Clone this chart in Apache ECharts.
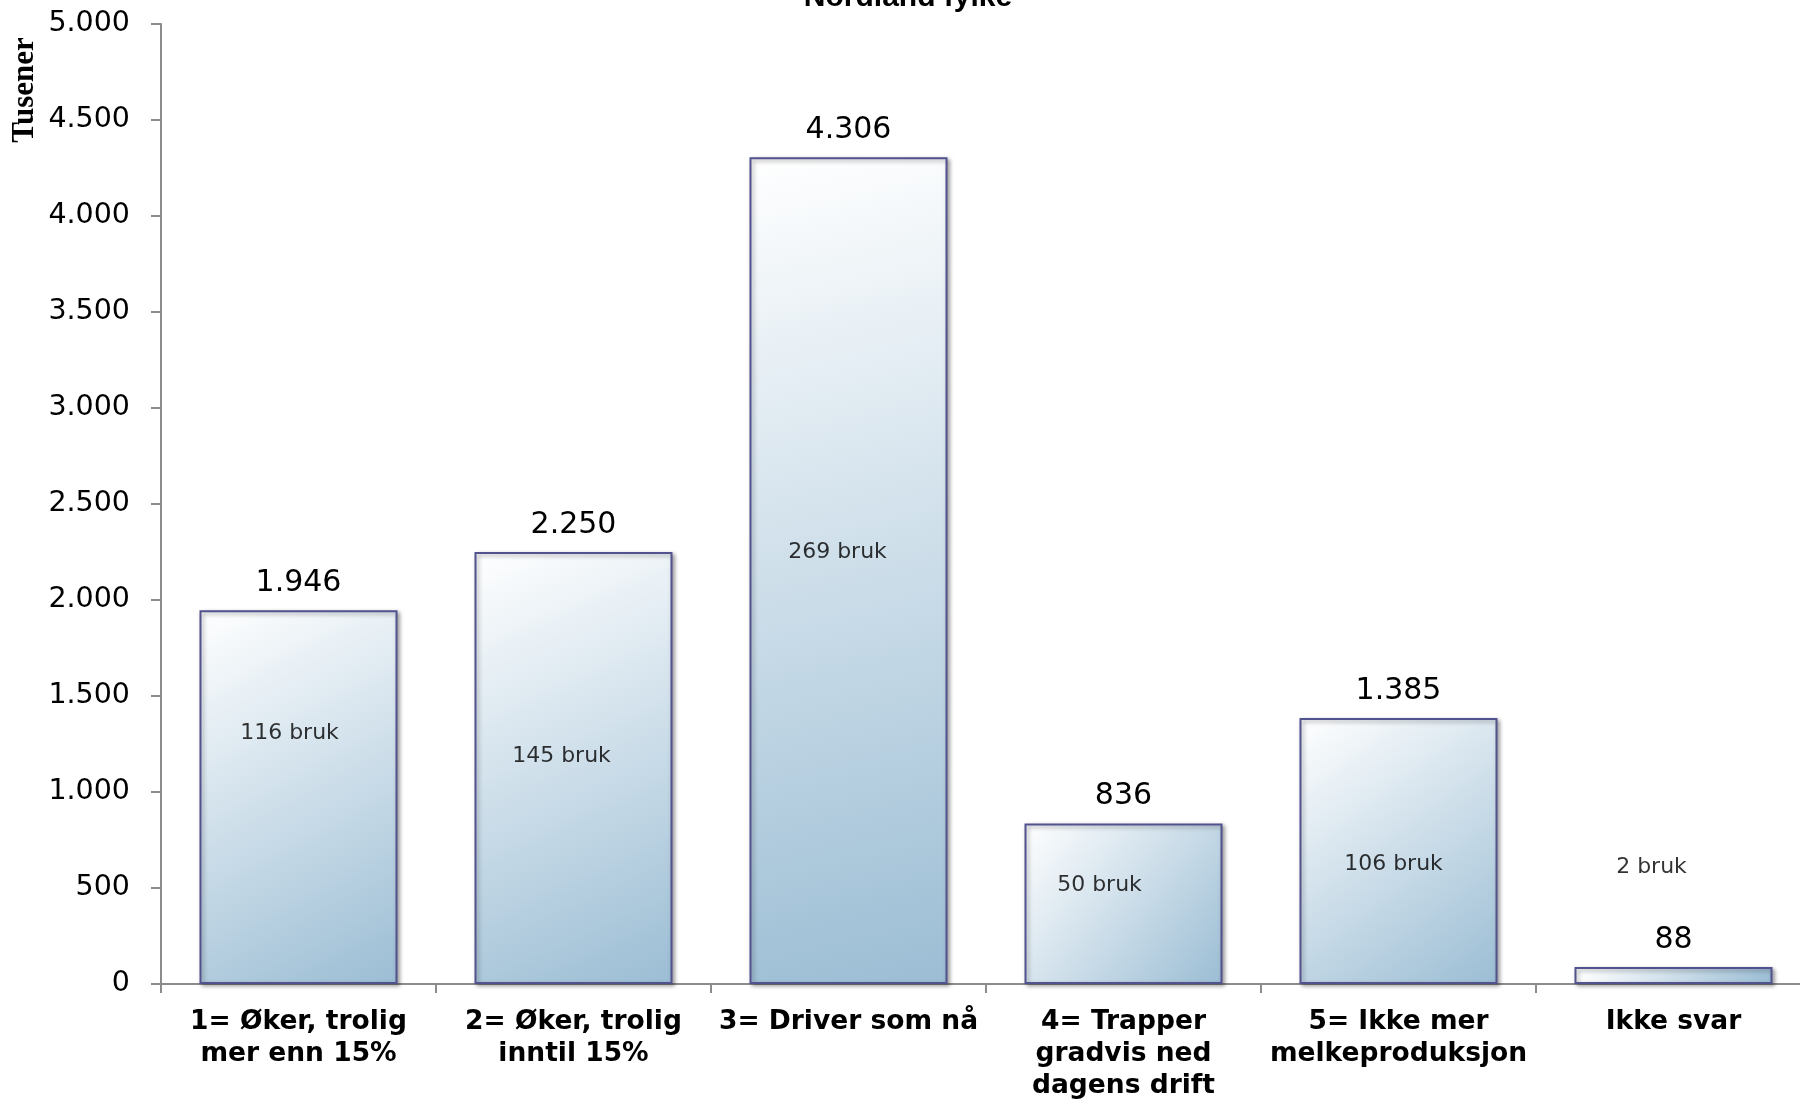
<!DOCTYPE html>
<html>
<head>
<meta charset="utf-8">
<script src="https://cdn.jsdelivr.net/npm/echarts@6/dist/echarts.min.js"></script>
<style>html,body{margin:0;padding:0;background:#fff;overflow:hidden}#c{width:1812px;height:1102px}</style>
</head>
<body>
<div id="c"></div>
<script>
const categories = ['1= Øker, trolig\nmer enn 15%', '2= Øker, trolig\ninntil 15%', '3= Driver som nå', '4= Trapper\ngradvis ned\ndagens drift', '5= Ikke mer\nmelkeproduksjon', 'Ikke svar'];
const values = [1946, 2250, 4306, 836, 1385, 88];
const brukCounts = [116, 145, 269, 50, 106, 2];
const yTicks = [0, 500, 1000, 1500, 2000, 2500, 3000, 3500, 4000, 4500, 5000];

// label anchor heights (in axis units) and horizontal nudges for the "bruk" annotations
const brukAnchor = [1305, 1185, 2247, 514, 624, 608];
const brukNudge = [-9, -12, -11, -24, -5, -22];

function fmt(v) { return String(v).replace(/\B(?=(\d{3})+(?!\d))/g, '.'); }

const chart = echarts.init(document.getElementById('c'), null, {renderer: 'canvas'});
const barColor = new echarts.graphic.LinearGradient(0, 0, 1, 1, [
  {offset: 0, color: '#ffffff'},
  {offset: 1, color: '#9bbdd4'}
]);
chart.setOption({
  animation: false,
  backgroundColor: '#ffffff',
  grid: {left: 161, top: 24, width: 1650, bottom: 117, containLabel: false},
  xAxis: {
    type: 'category',
    data: categories,
    axisLine: {lineStyle: {color: '#8c8c8c', width: 2}},
    axisTick: {show: true, length: 9, lineStyle: {color: '#8c8c8c', width: 2}},
    axisLabel: {interval: 0, margin: 22, fontFamily: 'DejaVu Sans', fontWeight: 'bold', fontSize: 26.5, lineHeight: 32, color: '#000'}
  },
  yAxis: {
    type: 'value', min: yTicks[0], max: yTicks[yTicks.length - 1], interval: yTicks[1] - yTicks[0],
    axisLine: {show: true, lineStyle: {color: '#8c8c8c', width: 2}},
    axisTick: {show: true, length: 10, lineStyle: {color: '#8c8c8c', width: 2}},
    splitLine: {show: false},
    axisLabel: {formatter: fmt, fontFamily: 'DejaVu Sans', fontSize: 28.5, color: '#000', margin: 31}
  },
  graphic: [
    {type: 'text', style: {x: 908, y: 13, text: 'Nordland fylke', textAlign: 'center', textVerticalAlign: 'bottom', font: 'bold 30px "Liberation Sans"', fill: '#000'}},
    {type: 'text', x: 25, y: 90, rotation: Math.PI / 2, style: {x: 0, y: 0, text: 'Tusener', textAlign: 'center', textVerticalAlign: 'middle', font: 'bold 31px "Liberation Serif"', fill: '#000'}}
  ],
  series: [
    {
      type: 'bar',
      data: values,
      barWidth: '72%',
      itemStyle: {color: barColor, borderColor: '#52528e', borderWidth: 2, shadowColor: 'rgba(0,0,0,0.35)', shadowBlur: 4, shadowOffsetX: 2, shadowOffsetY: 2},
      label: {show: true, position: 'top', distance: 12, formatter: p => fmt(p.value), fontFamily: 'DejaVu Sans', fontSize: 30, color: '#000'}
    },
    {
      type: 'scatter',
      symbolSize: 0,
      silent: true,
      data: brukAnchor.map((y, i) => ({value: [i, y], label: {offset: [brukNudge[i], 0]}})),
      label: {show: true, position: 'inside', formatter: p => brukCounts[p.dataIndex] + ' bruk', fontFamily: 'DejaVu Sans', fontSize: 22, color: '#000'},
      z: 5
    }
  ]
});
</script>
</body>
</html>
